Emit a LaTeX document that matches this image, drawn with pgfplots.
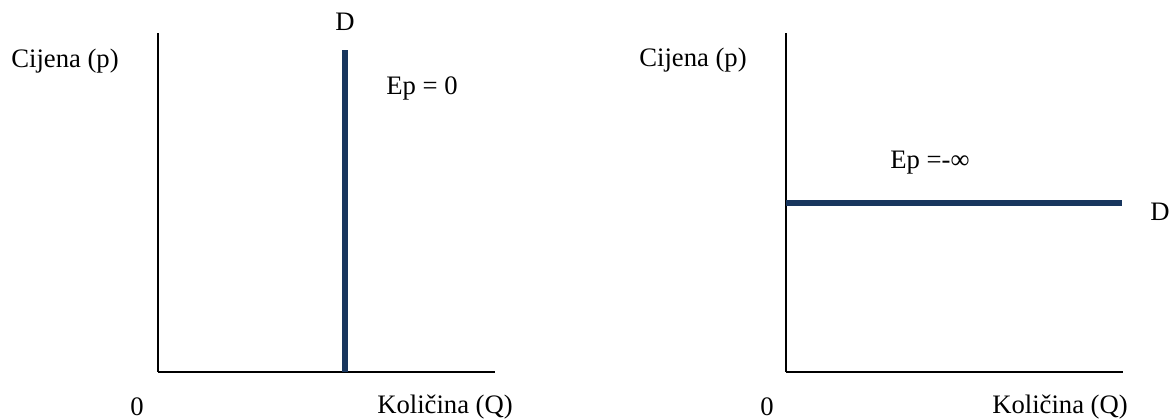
\documentclass[border=0pt]{standalone}
\usepackage{fontspec}
\setmainfont{Liberation Serif}
\usepackage{pgfplots}
\pgfplotsset{compat=1.18}
\definecolor{dnavy}{RGB}{24,54,94}
\begin{document}
\fontsize{20}{24}\selectfont
\begin{tikzpicture}
\useasboundingbox (0,0) rectangle (879.75pt,315pt);
\pgfplotsset{
  econ/.style={
    scale only axis, width=252.75pt, height=254.25pt,
    anchor=south west,
    xmin=0, xmax=337, ymin=0, ymax=339,
    axis x line=bottom, axis y line=left,
    axis line style={-, line width=1pt, black},
    xtick=\empty, ytick=\empty,
    clip=false,
  }
}
% left panel
\begin{axis}[econ, at={(118.5pt,36pt)}]
\addplot[dnavy, line width=4.5pt, line cap=butt] coordinates {(187,0) (187,322)};
\node at (axis cs:187,350) {D};
\node at (axis cs:264,284) {Ep = 0};
\node at (axis cs:-93,311) {Cijena (p)};
\node at (axis cs:-21,-35) {0};
\node at (axis cs:287,-35) {Količina (Q)};
\end{axis}
% right panel
\begin{axis}[econ, at={(589.5pt,36pt)}]
\addplot[dnavy, line width=4.5pt, line cap=butt] coordinates {(0,169) (336,169)};
\node at (axis cs:144,209) {Ep =-∞};
\node at (axis cs:374,160) {D};
\node at (axis cs:-93,312) {Cijena (p)};
\node at (axis cs:-19,-35) {0};
\node at (axis cs:274,-35) {Količina (Q)};
\end{axis}
\end{tikzpicture}
\end{document}
